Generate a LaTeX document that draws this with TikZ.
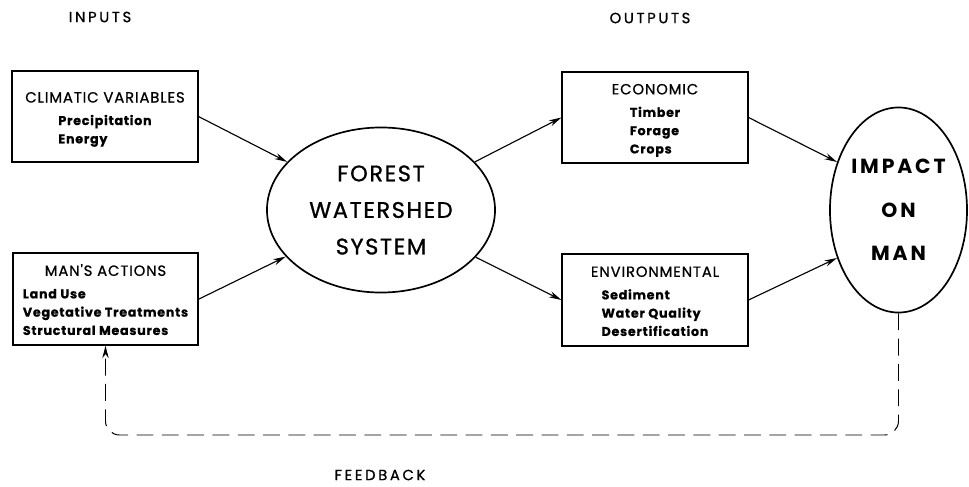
\documentclass[tikz,border=0pt]{standalone}
\usepackage{fontspec}
\setmainfont{Poppins}
\newfontfamily\titlefont[LetterSpace=6,FakeBold=0.8]{Poppins}
\newfontfamily\labelfont[LetterSpace=18,FakeBold=0.8]{Poppins}
\newfontfamily\blobfont[LetterSpace=7,FakeBold=1]{Poppins}
\newfontfamily\impactfont[LetterSpace=14]{Poppins}
\usetikzlibrary{arrows.meta,shapes.geometric}

\newcommand\boxtitle[1]{\rule{0pt}{13pt}#1}
\newcommand\itemlist[1]{{\fontsize{9}{13}\selectfont\bfseries
  \begin{tabular}[t]{@{}l@{}}#1\end{tabular}}}

\begin{document}
\begin{tikzpicture}[
  x=0.025cm,y=-0.025cm,
  box/.style={draw,line width=1.3pt,minimum width=4.63cm,minimum height=2.28cm,
              align=center,inner sep=0pt,font=\titlefont\fontsize{10.5}{16}\selectfont},
  blob/.style={draw,ellipse,line width=1.2pt,inner sep=0pt,align=center},
  flow/.style={-{Stealth[length=9pt,width=4.5pt]},line width=0.8pt},
  heading/.style={font=\labelfont\fontsize{10.5}{12}\selectfont},
]
  \useasboundingbox (0,0) rectangle (969,487);

  \node[heading] (inputs)   at (100,17)  {INPUTS};
  \node[heading] (outputs)  at (650,18)  {OUTPUTS};
  \node[heading] (feedback) at (380,475) {FEEDBACK};

  \node[box] (climate) at (105,116.5) {\boxtitle{CLIMATIC VARIABLES}\\\itemlist{Precipitation\\Energy}};
  \node[box] (actions) at (105.5,299) {\boxtitle{MAN'S ACTIONS}\\\itemlist{Land Use\\Vegetative Treatments\\Structural Measures}};
  \node[box] (econ)    at (655,117.5) {\boxtitle{ECONOMIC}\\\itemlist{Timber\\Forage\\Crops}};
  \node[box] (environ) at (655,300)   {\boxtitle{ENVIRONMENTAL}\\\itemlist{Sediment\\Water Quality\\Desertification}};

  \node[blob,minimum width=5.7cm,minimum height=4.125cm,
        font=\blobfont\fontsize{16}{26}\selectfont] (forest) at (381,210)
    {FOREST\\WATERSHED\\SYSTEM};
  \node[blob,minimum width=3.425cm,minimum height=5.125cm,
        font=\impactfont\bfseries\fontsize{14.5}{31}\selectfont] (impact) at (898.5,210)
    {IMPACT\\ON\\MAN};

  \draw[flow] (climate.east) -- (forest);
  \draw[flow] (actions.east) -- (forest);
  \draw[flow] (forest) -- (econ.west);
  \draw[flow] (forest) -- (environ.west);
  \draw[flow] (econ.east) -- (impact.142);
  \draw[flow] (environ.east) -- (impact.218);

  % feedback loop
  \coordinate (loop) at (500,435);
  \draw[flow,line width=0.7pt,dash pattern=on 12pt off 6pt,rounded corners=10pt]
    (impact.south) |- (loop) -| (actions.south);
\end{tikzpicture}
\end{document}
